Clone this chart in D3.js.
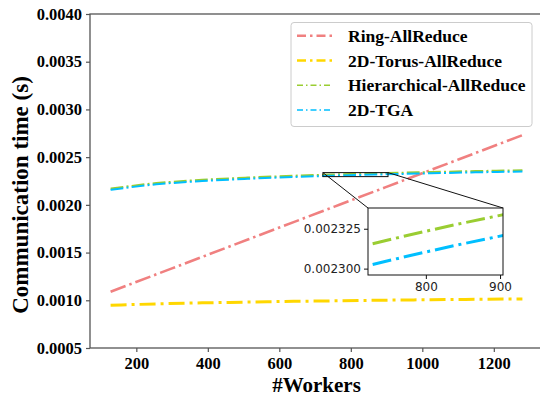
<!DOCTYPE html>
<html><head><meta charset="utf-8">
<script src="https://cdn.jsdelivr.net/npm/d3@7"></script>
<style>body{margin:0;background:#fff}svg{display:block}</style>
</head><body>
<svg id="c" width="540" height="400"></svg>
<script>
const workers = [128, 256, 384, 512, 640, 768, 896, 1024, 1152, 1280];
const ringAllReduce = [0.001090, 0.001272, 0.001454, 0.001637, 0.001819, 0.002001, 0.002183, 0.002366, 0.002548, 0.002730];
const torusAllReduce = [0.000948, 0.000962, 0.000973, 0.000981, 0.000989, 0.000995, 0.001001, 0.001006, 0.001010, 0.001014];
const hierAllReduce = [0.002170, 0.002228, 0.002262, 0.002286, 0.002305, 0.002320, 0.002333, 0.002344, 0.002354, 0.002363];
const tga2D = [0.002157, 0.002215, 0.002249, 0.002273, 0.002292, 0.002307, 0.002320, 0.002331, 0.002341, 0.002350];
const seriesNames = ["Ring-AllReduce", "2D-Torus-AllReduce", "Hierarchical-AllReduce", "2D-TGA"];
const xTicks = [200, 400, 600, 800, 1000, 1200];
const yTicks = [0.0005, 0.0010, 0.0015, 0.0020, 0.0025, 0.0030, 0.0035, 0.0040];
const insetXTicks = [800, 900];
const insetYTicks = [0.002300, 0.002325];

const series = [
  {name: seriesNames[0], values: ringAllReduce, color: "#F08080", w: 2.6, dash: "16,4,2.5,4", lw: 2.6, ldash: "9,4,2.5,4"},
  {name: seriesNames[1], values: torusAllReduce, color: "#FFD700", w: 3, dash: "16,5,3,5", lw: 2.6, ldash: "9,4,2.5,4"},
  {name: seriesNames[2], values: hierAllReduce, color: "#9ACD32", w: 2, dash: "12.8,3.2,2,3.2", lw: 1.5, ldash: "6,3,1.5,3"},
  {name: seriesNames[3], values: tga2D, color: "#00BFFF", w: 2, dash: "12.8,3.2,2,3.2", lw: 1.5, ldash: "6,3,1.5,3"}
];

const svg = d3.select("#c");
const L = 90, R = 543, T = 14, B = 348;
const x = d3.scaleLinear().domain([70.4, 1337.6]).range([L, R]);
const y = d3.scaleLinear().domain([0.0005, 0.0040]).range([B, T]);
const serif = "'Liberation Serif','Times New Roman',serif";
const axisCol = "#555";

const clip = svg.append("clipPath").attr("id", "pc").append("rect")
  .attr("x", L).attr("y", T).attr("width", R - L).attr("height", B - T);

const line = d3.line().x((d, i) => x(workers[i])).y(d => y(d)).curve(d3.curveMonotoneX);
const g = svg.append("g").attr("clip-path", "url(#pc)");
series.forEach(s => {
  g.append("path").attr("d", line(s.values)).attr("fill", "none")
    .attr("stroke", s.color).attr("stroke-width", s.w).attr("stroke-dasharray", s.dash);
});

// axes
const xa = svg.append("g").attr("transform", `translate(0,${B})`)
  .call(d3.axisBottom(x).tickValues(xTicks).tickSizeOuter(0).tickSize(4).tickPadding(5).tickFormat(d3.format("d")));
const ya = svg.append("g").attr("transform", `translate(${L},0)`)
  .call(d3.axisLeft(y).tickValues(yTicks).tickSizeOuter(0).tickSize(4).tickPadding(4).tickFormat(d3.format(".4f")));
[xa, ya].forEach(a => {
  a.select(".domain").remove();
  a.selectAll("line").attr("stroke", axisCol).attr("stroke-width", 1.2);
  a.selectAll("text").attr("font-family", serif).attr("font-weight", "bold").attr("font-size", 16.5).attr("fill", "#000");
});
// spines
svg.append("rect").attr("x", L).attr("y", T).attr("width", R - L).attr("height", B - T)
  .attr("fill", "none").attr("stroke", axisCol).attr("stroke-width", 1.3);

svg.append("text").attr("x", (L + R) / 2).attr("y", 392).attr("text-anchor", "middle")
  .attr("font-family", serif).attr("font-weight", "bold").attr("font-size", 21).text("#Workers");
svg.append("text").attr("transform", `translate(28,195) rotate(-90)`).attr("text-anchor", "middle")
  .attr("font-family", serif).attr("font-weight", "bold").attr("font-size", 23).text("Communication time (s)");

// legend
const lg = svg.append("g");
lg.append("rect").attr("x", 291).attr("y", 22.5).attr("width", 241).attr("height", 104).attr("rx", 3)
  .attr("fill", "#fff").attr("fill-opacity", 0.85).attr("stroke", "#ccc").attr("stroke-width", 1);
series.forEach((s, i) => {
  const cy = 35.7 + i * 24.8;
  lg.append("line").attr("x1", 297).attr("x2", 333).attr("y1", cy).attr("y2", cy)
    .attr("stroke", s.color).attr("stroke-width", s.lw).attr("stroke-dasharray", s.ldash);
  lg.append("text").attr("x", 348).attr("y", cy).attr("dy", "0.35em")
    .attr("font-family", serif).attr("font-weight", "bold").attr("font-size", 17.5).text(s.name);
});

// inset
const iL = 368, iR = 503, iT = 208, iB = 275;
const ix = d3.scaleLinear().domain([722, 904]).range([iL, iR]);
const iy = d3.scaleLinear().domain([0.002296, 0.002338]).range([iB, iT]);
// mark rect in main
const mx0 = x(722), mx1 = x(904), my0 = y(0.002338), my1 = y(0.002296);
svg.append("rect").attr("x", mx0).attr("y", my0).attr("width", mx1 - mx0).attr("height", my1 - my0)
  .attr("fill", "none").attr("stroke", "#111").attr("stroke-width", 1);
svg.append("line").attr("x1", mx0).attr("y1", my0).attr("x2", iL).attr("y2", iT).attr("stroke", "#111").attr("stroke-width", 1);
svg.append("line").attr("x1", mx1).attr("y1", my0).attr("x2", iR).attr("y2", iT).attr("stroke", "#111").attr("stroke-width", 1);

svg.append("rect").attr("x", iL).attr("y", iT).attr("width", iR - iL).attr("height", iB - iT).attr("fill", "#fff");
const ic = svg.append("clipPath").attr("id", "ic").append("rect")
  .attr("x", iL).attr("y", iT).attr("width", iR - iL).attr("height", iB - iT);
const iline = d3.line().x((d, i) => ix(workers[i])).y(d => iy(d)).curve(d3.curveMonotoneX);
const ig = svg.append("g").attr("clip-path", "url(#ic)");
[series[2], series[3]].forEach(s => {
  ig.append("path").attr("d", iline(s.values)).attr("fill", "none")
    .attr("stroke", s.color).attr("stroke-width", 3).attr("stroke-dasharray", "19,5,3,5");
});
const ixa = svg.append("g").attr("transform", `translate(0,${iB})`)
  .call(d3.axisBottom(ix).tickValues(insetXTicks).tickSizeOuter(0).tickSize(4).tickPadding(3).tickFormat(d3.format("d")));
const iya = svg.append("g").attr("transform", `translate(${iL},0)`)
  .call(d3.axisLeft(iy).tickValues(insetYTicks).tickSizeOuter(0).tickSize(4).tickPadding(3).tickFormat(d3.format(".6f")));
[ixa, iya].forEach(a => {
  a.select(".domain").remove();
  a.selectAll("line").attr("stroke", "#111").attr("stroke-width", 1);
  a.selectAll("text").attr("font-family", "'DejaVu Sans',sans-serif").attr("font-size", 12).attr("fill", "#222");
});
svg.append("rect").attr("x", iL).attr("y", iT).attr("width", iR - iL).attr("height", iB - iT)
  .attr("fill", "none").attr("stroke", "#111").attr("stroke-width", 1);
</script>
</body></html>
